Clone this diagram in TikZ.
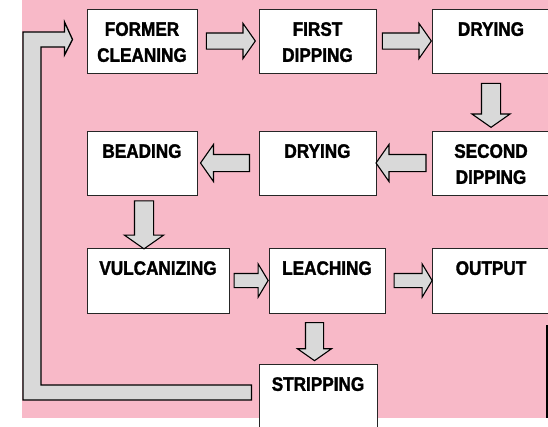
\documentclass[tikz,border=0pt]{standalone}
\usepackage{fontspec}
\setmainfont{Liberation Sans}[FakeStretch=0.88,BoldFeatures={FakeBold=1.6}]
\usetikzlibrary{shapes.arrows,calc}
\definecolor{bgpink}{RGB}{248,185,200}
\definecolor{arrgray}{RGB}{217,217,217}

\begin{document}
\begin{tikzpicture}[x=1pt,y=-1pt,
  box/.style={draw=black!85,line width=1pt,fill=white,minimum height=64pt,inner sep=0pt},
  txt/.style={anchor=north,inner sep=0pt,align=center,yshift=-13.5pt,font=\bfseries\fontsize{19.5}{26}\selectfont},
  barrow/.style 2 args={single arrow,draw=black,line width=1.1pt,fill=arrgray,inner xsep=0pt,
    inner ysep=#1,single arrow head extend=#2,single arrow tip angle=110},
  bigarr/.style={draw=black,line width=1.3pt,fill=arrgray}]
\useasboundingbox (0,0) rectangle (548,426);
\fill[bgpink] (22,0) rectangle (548,418);
\draw[line width=2pt] (547,325) -- (547,418);

% boxes
\node[box,minimum width=110pt] (fc) at (142,41) {};
\node[box,minimum width=117pt] (fd) at (317.5,41) {};
\node[box,minimum width=118pt] (dr1) at (491,41) {};
\node[box,minimum width=110pt] (bd) at (142,163) {};
\node[box,minimum width=117pt] (dr2) at (317.5,163) {};
\node[box,minimum width=118pt] (sd) at (491,163) {};
\node[box,minimum width=142pt,minimum height=65pt] (vu) at (158,280.5) {};
\node[box,minimum width=116pt,minimum height=65pt] (le) at (327,280.5) {};
\node[box,minimum width=118pt,minimum height=65pt] (ou) at (491,280.5) {};
\node[box,minimum width=118pt] (st) at (318,396) {};

\node[txt] (fc-t) at (fc.north) {FORMER\\CLEANING};
\node[txt] (fd-t) at (fd.north) {FIRST\\DIPPING};
\node[txt] (dr1-t) at (dr1.north) {DRYING};
\node[txt] (bd-t) at (bd.north) {BEADING};
\node[txt] (dr2-t) at (dr2.north) {DRYING};
\node[txt] (sd-t) at (sd.north) {SECOND\\DIPPING};
\node[txt] (vu-t) at (vu.north) {VULCANIZING};
\node[txt] (le-t) at (le.north) {LEACHING};
\node[txt] (ou-t) at (ou.north) {OUTPUT};
\node[txt] (st-t) at (st.north) {STRIPPING};

% block arrows
\node[barrow={7.5pt}{9.5pt},minimum height=49pt] (a1) at ($(fc.east)!.5!(fd.west)$) {};
\node[barrow={7.5pt}{9.5pt},minimum height=49pt] (a2) at ($(fd.east)!.5!(dr1.west)$) {};
\node[barrow={9pt}{9.5pt},rotate=-90,minimum height=44pt] (a3) at ($(dr1.south)!.5!(sd.north)$) {};
\node[barrow={8pt}{10pt},rotate=180,minimum height=50pt] (a4) at ($(sd.west)!.5!(dr2.east)$) {};
\node[barrow={8pt}{10pt},rotate=180,minimum height=49pt] (a5) at ($(dr2.west)!.5!(bd.east)$) {};
\node[barrow={9pt}{10pt},rotate=-90,minimum height=48pt] (a6) at ($(bd.south)+(2,26)$) {};
\node[barrow={6.5pt}{9.5pt},minimum height=34pt,single arrow tip angle=118] (a7) at ($(vu.east)!.5!(le.west)$) {};
\node[barrow={6.5pt}{9.5pt},minimum height=38pt,single arrow tip angle=118] (a8) at ($(le.east)!.5!(ou.west)+(2.5,0)$) {};
\node[barrow={8.5pt}{8pt},rotate=-90,minimum height=38pt] (a9) at ($(st.north)+(-3.5,-25)$) {};

% return path
\draw[bigarr] ($(st.west)+(-7,-11)$) -- (41,385) -- (41,47) -- ($(fc.west)+(-22,6)$) -- ++(0,8)
  -- ($(fc.west)+(-14,-1.5)$) -- ($(fc.west)+(-22,-19)$) -- ++(0,10) -- (23,32) -- (23,400)
  -- ($(st.west)+(-7,4)$) -- cycle;
\end{tikzpicture}
\end{document}
